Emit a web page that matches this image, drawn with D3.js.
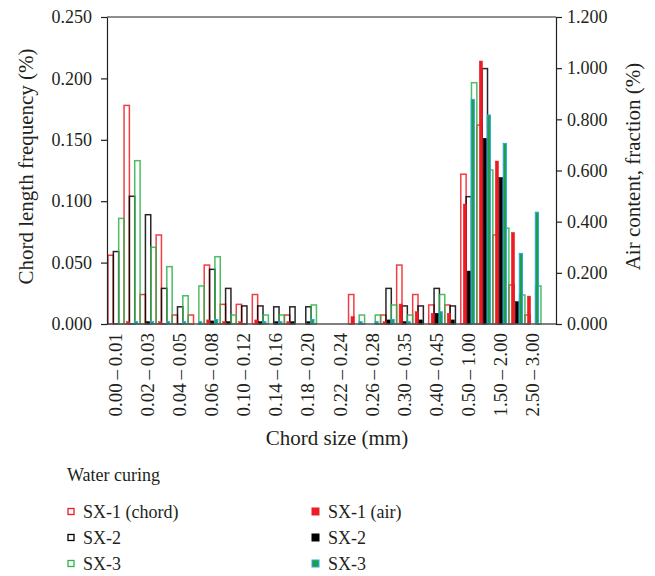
<!DOCTYPE html>
<html>
<head>
<meta charset="utf-8">
<script src="https://cdn.jsdelivr.net/npm/d3@7"></script>
<style>
  body { margin: 0; background: #fff; }
  text { font-family: "Liberation Serif", "DejaVu Serif", serif; fill: #231f20; }
</style>
</head>
<body>
<svg id="chart" width="655" height="576"></svg>
<script>
// chord size classes (mm)
const categories = ["0.00–0.01", "0.01–0.02", "0.02–0.03", "0.03–0.04", "0.04–0.05", "0.05–0.06",
  "0.06–0.08", "0.08–0.10", "0.10–0.12", "0.12–0.14", "0.14–0.16", "0.16–0.18", "0.18–0.20",
  "0.20–0.22", "0.22–0.24", "0.24–0.26", "0.26–0.28", "0.28–0.30", "0.30–0.35", "0.35–0.40",
  "0.40–0.45", "0.45–0.50", "0.50–1.00", "1.00–1.50", "1.50–2.00", "2.00–2.50", "2.50–3.00"];

// chord length frequency (%), left axis
const chordSX1 = [0.056, 0.178, 0.024, 0.0725, 0.0073, 0.0073, 0.048, 0.016, 0.016, 0.024, 0, 0.0073, 0,
  0, 0, 0.024, 0, 0.0073, 0.048, 0.024, 0.0155, 0.0155, 0.122, 0.162, 0.0725, 0.0318, 0.0073];
const chordSX2 = [0.059, 0.104, 0.089, 0.029, 0.014, 0, 0.0445, 0.029, 0.0147, 0.0147, 0.014, 0.014, 0.014,
  0, 0, 0, 0, 0.029, 0.0147, 0.0147, 0.029, 0.0147, 0.1037, 0.208, 0.119, 0, 0];
const chordSX3 = [0.086, 0.133, 0.0625, 0.0467, 0.023, 0.031, 0.0548, 0.0073, 0, 0.0073, 0.0073, 0, 0.0155,
  0, 0, 0.0073, 0.0073, 0.0155, 0.0073, 0, 0.024, 0, 0.1965, 0.1254, 0.078, 0.0236, 0.031];

// air content, fraction (%), right axis
const airSX1 = [0, 0.009, 0, 0.009, 0, 0, 0.016, 0.009, 0.009, 0.016, 0, 0.009, 0,
  0, 0, 0.029, 0, 0.009, 0.078, 0.048, 0.042, 0.042, 0.469, 1.028, 0.637, 0.358, 0.109];
const airSX2 = [0, 0, 0.009, 0, 0, 0, 0.012, 0.009, 0, 0.009, 0.009, 0.009, 0.009,
  0, 0, 0, 0, 0.016, 0.009, 0.016, 0.042, 0.016, 0.207, 0.726, 0.570, 0.087, 0];
const airSX3 = [0, 0.009, 0.009, 0.009, 0.009, 0.009, 0.018, 0, 0, 0.009, 0.009, 0, 0.018,
  0, 0, 0.009, 0.009, 0.018, 0.009, 0, 0.048, 0, 0.878, 0.817, 0.706, 0.276, 0.437];

const leftTicks = [0, 0.05, 0.1, 0.15, 0.2, 0.25];
const rightTicks = [0, 0.2, 0.4, 0.6, 0.8, 1.0, 1.2];

const red = "#ed1c24", black = "#000000", green = "#2db34a", blue = "#29a9e0";

const chordSeries = [
  {name: "SX-1 (chord)", values: chordSX1, color: red},
  {name: "SX-2", values: chordSX2, color: black},
  {name: "SX-3", values: chordSX3, color: green}
];
const airSeries = [
  {name: "SX-1 (air)", values: airSX1, fill: red, stroke: red},
  {name: "SX-2", values: airSX2, fill: black, stroke: black},
  {name: "SX-3", values: airSX3, fill: "#1f9d47", stroke: blue}
];

const width = 655, height = 576;
const margin = {top: 17, right: 99, bottom: 252, left: 107};
const innerW = width - margin.left - margin.right;
const innerH = height - margin.top - margin.bottom;

const svg = d3.select("#chart");
const g = svg.append("g").attr("transform", `translate(${margin.left},${margin.top})`);

// one empty slot is left at the right end of the plot
const x = d3.scaleBand().domain(categories).range([1, 1 + innerW * 27 / 28]);
const yL = d3.scaleLinear().domain([0, 0.25]).range([innerH, 0]);
const yR = d3.scaleLinear().domain([0, 1.2]).range([innerH, 0]);

const slot = x.bandwidth() / 3;

// hollow chord bars
chordSeries.forEach(function(s, i){
  g.append("g").selectAll("rect")
    .data(categories.map((c, k) => ({c: c, v: s.values[k]})).filter(d => d.v > 0))
    .join("rect")
    .attr("x", d => x(d.c) + i * slot)
    .attr("y", d => yL(d.v))
    .attr("width", slot)
    .attr("height", d => innerH - yL(d.v))
    .attr("fill", "none")
    .attr("stroke", s.color)
    .attr("stroke-width", 1.5)
    .attr("stroke-opacity", 0.85);
});

// filled air content bars
const fillW = slot * 0.6, fillStep = slot * 0.74;
airSeries.forEach(function(s, i){
  g.append("g").selectAll("rect")
    .data(categories.map((c, k) => ({c: c, v: s.values[k]})).filter(d => d.v > 0))
    .join("rect")
    .attr("x", d => x(d.c) + x.bandwidth() / 2 + (i - 1) * fillStep - fillW / 2)
    .attr("y", d => yR(d.v))
    .attr("width", fillW)
    .attr("height", d => innerH - yR(d.v))
    .attr("fill", s.fill)
    .attr("stroke", s.stroke)
    .attr("stroke-width", i == 2 ? 1 : 0.5);
});

// frame: top line and bottom axis line
g.append("line").attr("x1", 0).attr("x2", innerW).attr("y1", 0).attr("y2", 0)
  .attr("stroke", "#231f20").attr("stroke-width", 1.2);
g.append("line").attr("x1", 0).attr("x2", innerW).attr("y1", innerH).attr("y2", innerH)
  .attr("stroke", "#555").attr("stroke-width", 1.5);

// left axis
const leftAxis = g.append("g")
  .call(d3.axisLeft(yL).tickValues(leftTicks).tickFormat(d3.format(".3f")).tickSize(6).tickSizeOuter(0).tickPadding(9));
// right axis
const rightAxis = g.append("g").attr("transform", `translate(${innerW},0)`)
  .call(d3.axisRight(yR).tickValues(rightTicks).tickFormat(d3.format(".3f")).tickSize(6).tickSizeOuter(0).tickPadding(5));
[leftAxis, rightAxis].forEach(function(a){
  a.select(".domain").attr("stroke", "#231f20").attr("stroke-width", 1.2);
  a.selectAll(".tick line").attr("stroke", "#231f20").attr("stroke-width", 1.2);
  a.selectAll(".tick text").style("font-size", "18px").attr("fill", "#231f20");
});

// category labels, every second class
g.append("g").selectAll("text")
  .data(categories.filter((c, k) => k % 2 == 0))
  .join("text")
  .attr("transform", d => `translate(${x(d) + x.bandwidth() / 2 + 6},${innerH + 9}) rotate(-90)`)
  .attr("text-anchor", "end")
  .style("font-size", "19px")
  .text(d => d.replace("–", "\u2009–\u2009"));

// axis titles
svg.append("text")
  .attr("transform", `translate(33,${margin.top + innerH / 2 - 4}) rotate(-90)`)
  .attr("text-anchor", "middle")
  .style("font-size", "21px")
  .text("Chord length frequency (%)");
svg.append("text")
  .attr("transform", `translate(640,${margin.top + innerH / 2 - 4}) rotate(-90)`)
  .attr("text-anchor", "middle")
  .style("font-size", "21px")
  .text("Air content, fraction (%)");
svg.append("text")
  .attr("x", 337).attr("y", 445)
  .attr("text-anchor", "middle")
  .style("font-size", "21px")
  .text("Chord size (mm)");

// legend
const legend = svg.append("g");
legend.append("text").attr("x", 67).attr("y", 481).style("font-size", "18px").text("Water curing");
const rowY = [512, 538, 564];
chordSeries.forEach(function(s, i){
  legend.append("rect").attr("x", 68).attr("y", rowY[i] - 3.5).attr("width", 6).attr("height", 6)
    .attr("fill", "none").attr("stroke", s.color).attr("stroke-width", 1.3);
  legend.append("text").attr("x", 83).attr("y", rowY[i] + 6).style("font-size", "18px").text(s.name);
});
airSeries.forEach(function(s, i){
  legend.append("rect").attr("x", 312).attr("y", rowY[i] - 4).attr("width", 7).attr("height", 7)
    .attr("fill", s.fill).attr("stroke", s.stroke).attr("stroke-width", 1);
  legend.append("text").attr("x", 328).attr("y", rowY[i] + 6).style("font-size", "18px").text(s.name);
});
</script>
</body>
</html>
